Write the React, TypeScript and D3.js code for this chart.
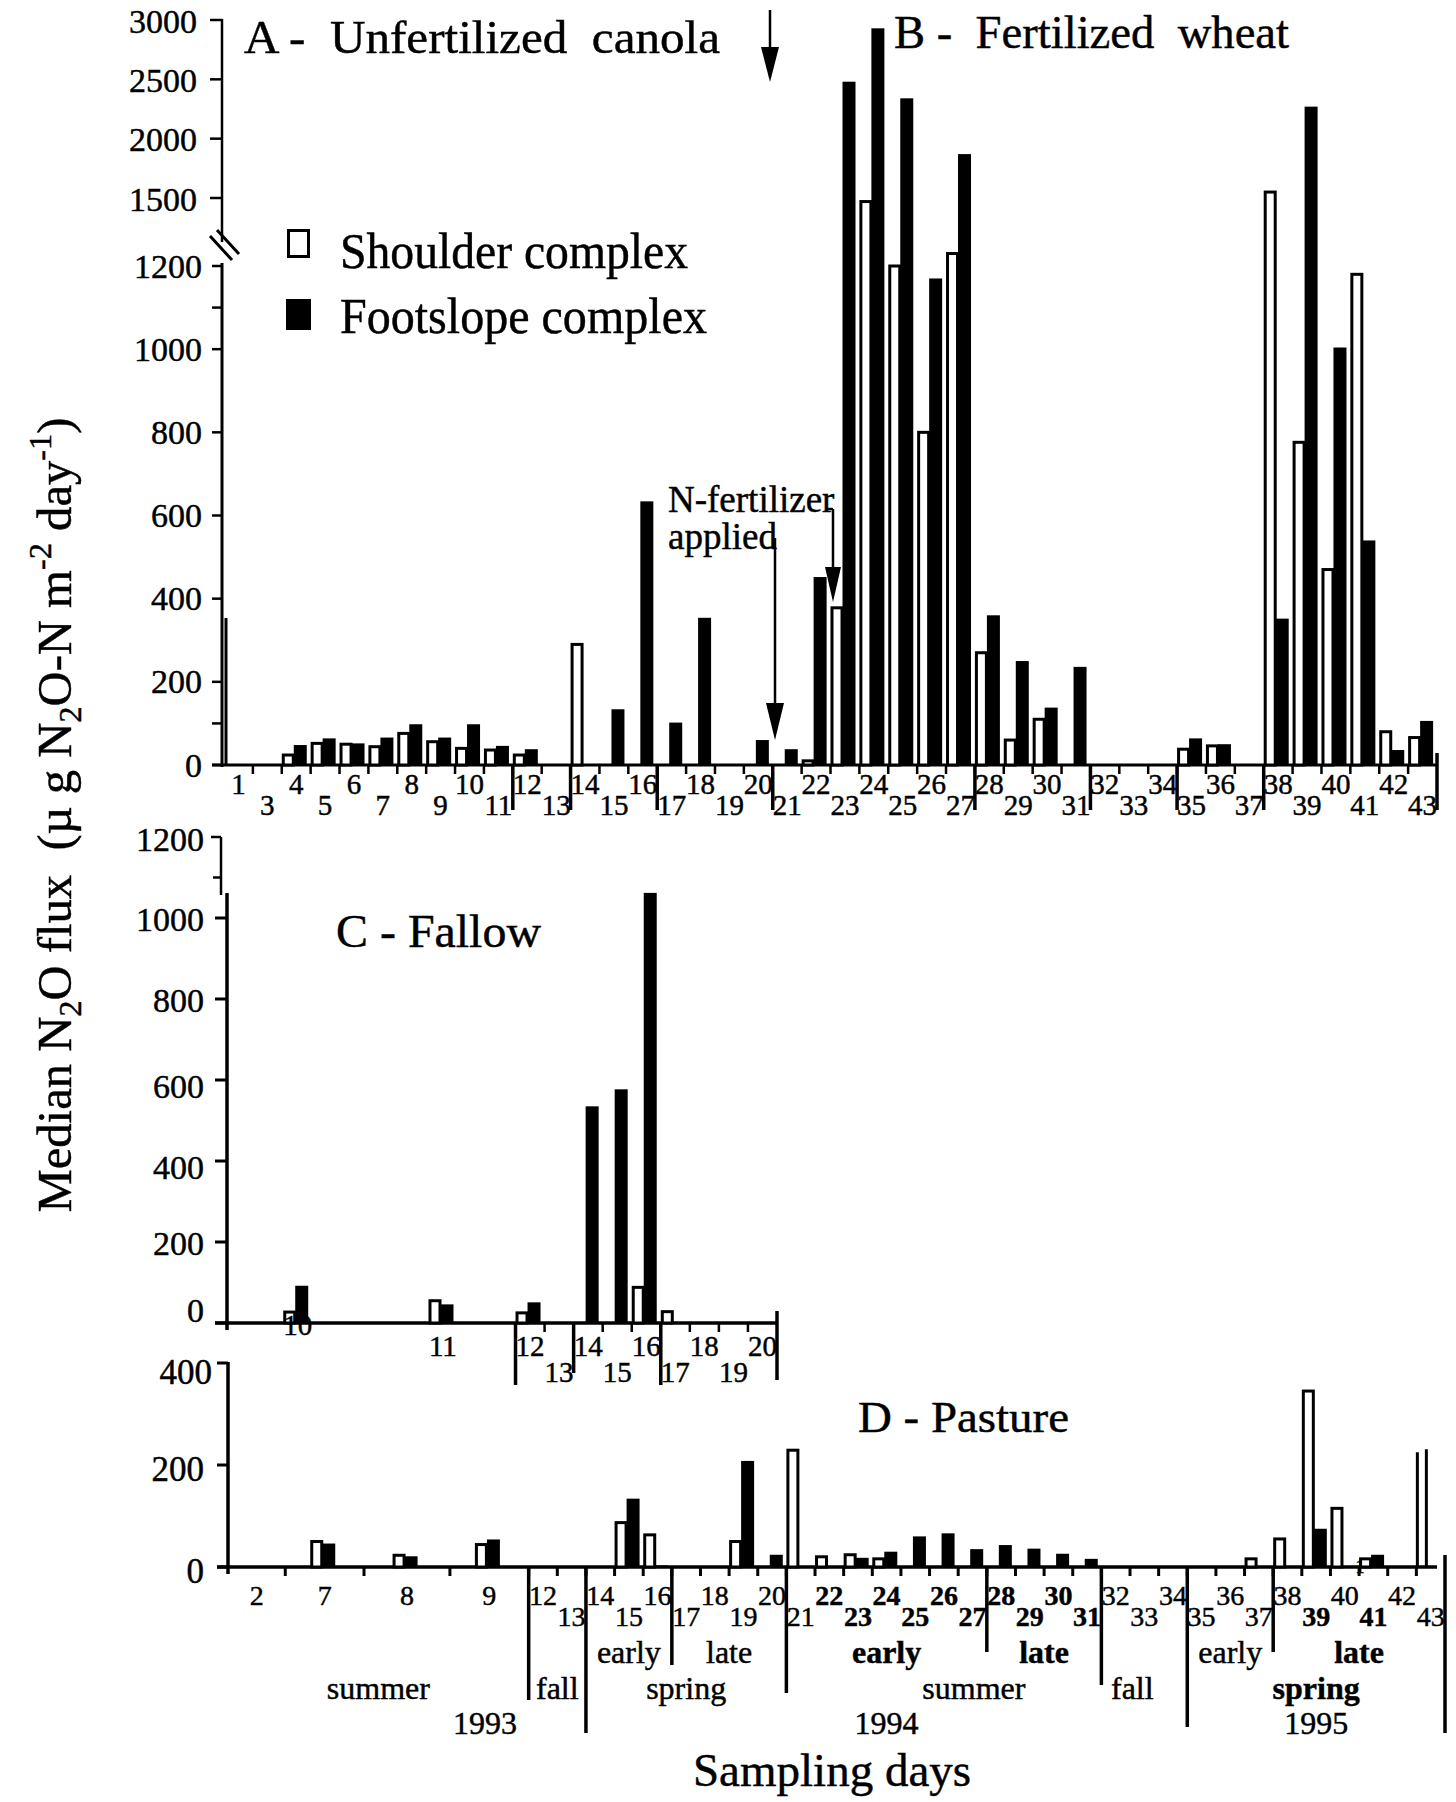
import React from 'react'
import * as d3 from 'd3'

// values (µg N2O-N m-2 day-1)
const daysA = ['1', '3', '4', '5', '6', '7', '8', '9', '10', '11', '12', '13', '14', '15', '16', '17', '18', '19', '20', '21', '22',
  '23', '24', '25', '26', '27', '28', '29', '30', '31', '32', '33', '34', '35', '36', '37', '38', '39', '40', '41', '42', '43']
const shoulderA = [0, 0, 24, 52, 50, 44, 76, 56, 40, 36, 24, 0, 290, 0, 0, 0, 0, 0, 0, 0, 10,
  378, 1470, 1200, 800, 1230, 270, 60, 110, 0, 0, 0, 0, 38, 46, 0, 1550, 776, 470, 1180, 80, 66]
const footslopeA = [0, 0, 48, 64, 52, 66, 98, 66, 98, 46, 38, 0, 0, 134, 634, 102, 354, 0, 60, 38, 452,
  2480, 2930, 2340, 1170, 1870, 360, 250, 138, 236, 0, 0, 0, 64, 50, 0, 352, 2270, 1004, 540, 36, 106]

const daysC = ['10', '11', '12', '13', '14', '15', '16', '17', '18', '19', '20']
const shoulderC = [27, 55, 25, 0, 0, 0, 88, 28, 0, 0, 0]
const footslopeC = [92, 46, 51, 0, 535, 577, 1062, 0, 0, 0, 0]

const daysD = ['2', '7', '8', '9', '12', '13', '14', '15', '16', '17', '18', '19', '20', '21', '22', '23', '24', '25', '26', '27',
  '28', '29', '30', '31', '32', '33', '34', '35', '36', '37', '38', '39', '40', '41', '42', '43']
const shoulderD = [0, 50, 23, 44, 0, 0, 0, 87, 63, 0, 0, 50, 0, 229, 20, 24, 16, 0, 0, 0,
  0, 0, 0, 0, 0, 0, 0, 0, 0, 16, 55, 345, 115, 16, 0, 225]
const footslopeD = [0, 46, 21, 54, 0, 0, 0, 134, 3, 0, 0, 208, 24, 0, 0, 18, 30, 60, 66, 35,
  43, 36, 26, 16, 0, 0, 0, 0, 0, 0, 0, 75, 0, 24, 0, 0]

const ticksALow = [0, 200, 400, 600, 800, 1000, 1200]
const minorALow = [100, 1100]
const ticksAUp = [1500, 2000, 2500, 3000]
const ticksC = [0, 200, 400, 600, 800, 1000]
const ticksD = [0, 200, 400]

const seasonsD = [
  { text: 'early', from: '14', to: '16', row: 0, bold: false },
  { text: 'late', from: '17', to: '20', row: 0, bold: false },
  { text: 'early', from: '21', to: '27', row: 0, bold: true },
  { text: 'late', from: '28', to: '31', row: 0, bold: true },
  { text: 'early', from: '35', to: '37', row: 0, bold: false },
  { text: 'late', from: '38', to: '43', row: 0, bold: true },
  { text: 'summer', from: '2', to: '9', row: 1, bold: false },
  { text: 'fall', from: '12', to: '13', row: 1, bold: false },
  { text: 'spring', from: '14', to: '20', row: 1, bold: false },
  { text: 'summer', from: '21', to: '31', row: 1, bold: false },
  { text: 'fall', from: '32', to: '34', row: 1, bold: false },
  { text: 'spring', from: '35', to: '43', row: 1, bold: true },
  { text: '1993', from: '2', to: '13', row: 2, bold: false },
  { text: '1994', from: '14', to: '34', row: 2, bold: false },
  { text: '1995', from: '35', to: '43', row: 2, bold: false },
]
const boldDayD = ['22', '23', '24', '25', '26', '27', '28', '29', '30', '31', '39', '41']

// layout
const W = 1456
const H = 1802
const serif = '"Liberation Serif", "Times New Roman", serif'
const STD = 28.8
const spanC: Record<string, number> = { '10': 5, '11': 5 }
const spanD: Record<string, number> = { '2': 2, '7': 2.75, '8': 3, '9': 2.75 }
const seasonRowY = [1652, 1688, 1723]
const seasonNudge: Record<string, number> = { '1993': 78, 'summer-21': 30, 'fall-32': -12 }

type Band = { day: string; x0: number; x1: number }

function cumulativeBands(days: string[], span: Record<string, number>, r0: number, r1: number): Band[] {
  const units = days.map(d => span[d] ?? 1)
  const total = d3.sum(units)
  const x = d3.scaleLinear().domain([0, total]).range([r0, r1])
  let acc = 0
  return days.map((d, i) => {
    const b = { day: d, x0: x(acc), x1: x(acc + units[i]) }
    acc += units[i]
    return b
  })
}

const xA = d3.scaleBand<string>().domain(daysA).range([224, 1437])
const bandsA: Band[] = daysA.map(d => ({ day: d, x0: xA(d)!, x1: xA(d)! + xA.bandwidth() }))
const yALow = d3.scaleLinear().domain([0, 1200]).range([765, 266])
const yAUp = d3.scaleLinear().domain([1500, 3000]).range([198, 20])
const yA = (v: number) => (v > 1300 ? yAUp(v) : yALow(v))

const bandsC = cumulativeBands(daysC, spanC, 225, 777)
const yC = d3.scaleLinear().domain([0, 1000]).range([1323, 918])

const bandsD = cumulativeBands(daysD, spanD, 228, 1445)
const yD = d3.scaleLinear().domain([0, 400]).range([1567, 1363])

function barPairs(bands: Band[], s: number[], f: number[], y: (v: number) => number, base: number, openTop: string[] = []) {
  return bands.map((b, i) => {
    const w = b.x1 - b.x0
    const x0 = b.x0 + (w > STD + 1 ? (w - STD) / 2 : 0)
    return (
      <g key={b.day}>
        {s[i] > 0 && (openTop.includes(b.day) ? (
          <g stroke="#000" strokeWidth={3}>
            <line x1={x0 + 1} x2={x0 + 1} y1={base} y2={y(s[i])} />
            <line x1={x0 + 10} x2={x0 + 10} y1={base} y2={y(s[i]) - 3} />
          </g>
        ) : (
          <rect x={x0 + 1.5} y={y(s[i])} width={10} height={base - y(s[i])} fill="#fff" stroke="#000" strokeWidth={3} />
        ))}
        {f[i] > 0 && <rect x={x0 + 12} y={y(f[i])} width={13} height={base - y(f[i])} fill="#000" />}
      </g>
    )
  })
}

function bandTicks(bands: Band[], base: number, len: number) {
  return bands.slice(1).map(b => <line key={'t' + b.day} x1={b.x0} x2={b.x0} y1={base} y2={base + len} />)
}

function dividers(bands: Band[], ends: Record<string, number>, base: number) {
  return Object.keys(ends).map(k => {
    const b = k === 'end' ? bands[bands.length - 1] : bands.find(d => d.day === k)!
    const x = k === 'end' ? b.x1 : b.x0
    return <line key={'v' + k} x1={x} x2={x} y1={base - (k === 'end' ? 12 : 0)} y2={ends[k]} strokeWidth={3.5} />
  })
}

function dayLabels(bands: Band[], rowY: (d: string) => number, bold: string[] = [], size = 29) {
  return bands.map(b => (
    <text key={'l' + b.day} x={(b.x0 + b.x1) / 2} y={rowY(b.day)} textAnchor="middle" dominantBaseline="central"
      fontSize={size} fontWeight={bold.includes(b.day) ? 'bold' : 'normal'}>{b.day}</text>
  ))
}

function Arrow({ x, y1, y2, head = 36, half = 9 }: { x: number; y1: number; y2: number; head?: number; half?: number }) {
  return (
    <g>
      <line x1={x} x2={x} y1={y1} y2={y2 - head + 2} stroke="#000" strokeWidth={2.5} />
      <path d={`M${x - half},${y2 - head}L${x + half},${y2 - head}L${x},${y2}Z`} fill="#000" />
    </g>
  )
}

export default function App() {
  const isUpper = (d: string) => d === '1' || +d % 2 === 0
  return (
    <svg width={W} height={H} viewBox={`0 0 ${W} ${H}`} fontFamily={serif}
      style={{ position: 'absolute', left: 0, top: 0, background: '#fff' }}>
      <style>{'text { stroke: #000; stroke-width: 0.45px; }'}</style>
      <rect width={W} height={H} fill="#fff" />

      {/* y title */}
      <text transform="translate(71,815) rotate(-90)" textAnchor="middle" fontSize={48}
        textLength={795} lengthAdjust="spacingAndGlyphs" style={{ whiteSpace: 'pre' }}>
        Median N<tspan dy={10} fontSize={32}>2</tspan><tspan dy={-10}>O flux  (µ g N</tspan>
        <tspan dy={10} fontSize={32}>2</tspan><tspan dy={-10}>O-N m</tspan>
        <tspan dy={-20} fontSize={32}>-2</tspan><tspan dy={20}> day</tspan>
        <tspan dy={-20} fontSize={32}>-1</tspan><tspan dy={20}>)</tspan>
      </text>

      {/* ---------- panel A / B ---------- */}
      <g stroke="#000" strokeWidth={2.5}>
        <line x1={222} x2={222} y1={19} y2={242} />
        {ticksAUp.map(v => <line key={v} x1={210} x2={222} y1={yAUp(v)} y2={yAUp(v)} />)}
        <line x1={210} x2={232} y1={236} y2={260} strokeWidth={3} />
        <line x1={217} x2={239} y1={230} y2={254} strokeWidth={3} />
        <line x1={222} x2={222} y1={263} y2={767} strokeWidth={3} />
        <line x1={226} x2={226} y1={618} y2={766} strokeWidth={3} />
        {ticksALow.concat(minorALow).map(v => <line key={'a' + v} x1={212} x2={222} y1={yALow(v)} y2={yALow(v)} />)}
        <line x1={212} x2={1437} y1={765} y2={765} strokeWidth={3} />
        {bandTicks(bandsA, 765, 9)}
        {dividers(bandsA, { '12': 810, '14': 810, '17': 810, '21': 810, '28': 810, '32': 810, '35': 810, '38': 810, end: 810 }, 765)}
      </g>
      <g fontSize={34} textAnchor="end" dominantBaseline="central">
        {ticksAUp.map(v => <text key={v} x={197} y={yAUp(v) + 1}>{v}</text>)}
        {ticksALow.map(v => <text key={v} x={202} y={yALow(v)}>{v}</text>)}
      </g>
      {barPairs(bandsA, shoulderA, footslopeA, yA, 765)}
      {dayLabels(bandsA, d => (isUpper(d) ? 784 : 805))}

      <text x={244} y={53} fontSize={47} textLength={476} lengthAdjust="spacingAndGlyphs" style={{ whiteSpace: 'pre' }}>A -  Unfertilized  canola</text>
      <text x={894} y={48} fontSize={47} textLength={395} lengthAdjust="spacingAndGlyphs" style={{ whiteSpace: 'pre' }}>B -  Fertilized  wheat</text>
      <Arrow x={770} y1={10} y2={82} head={35} half={9} />

      <rect x={288.5} y={230.5} width={20} height={26} fill="#fff" stroke="#000" strokeWidth={3} />
      <text x={340} y={268} fontSize={50} textLength={348} lengthAdjust="spacingAndGlyphs">Shoulder complex</text>
      <rect x={286} y={299} width={25} height={31} fill="#000" />
      <text x={340} y={333} fontSize={50} textLength={367} lengthAdjust="spacingAndGlyphs">Footslope complex</text>

      <text x={668} y={512} fontSize={37}>N-fertilizer</text>
      <text x={668} y={549} fontSize={37}>applied</text>
      <Arrow x={775} y1={538} y2={740} head={37} half={9} />
      <line x1={826} x2={833} y1={509} y2={509} stroke="#000" strokeWidth={2.5} />
      <Arrow x={833} y1={509} y2={602} head={35} half={8} />

      {/* ---------- panel C ---------- */}
      <g stroke="#000" strokeWidth={2.5}>
        <line x1={221} x2={221} y1={837} y2={895} />
        <line x1={211} x2={221} y1={yC(1200)} y2={yC(1200)} />
        <line x1={213} x2={221} y1={yC(1100)} y2={yC(1100)} />
        <line x1={227} x2={227} y1={893} y2={1330} strokeWidth={3.5} />
        {ticksC.map(v => <line key={v} x1={215} x2={227} y1={yC(v)} y2={yC(v)} strokeWidth={3} />)}
        <line x1={215} x2={777} y1={1323} y2={1323} strokeWidth={3.5} />
        {bandTicks(bandsC.slice(2), 1323, 9)}
        {dividers(bandsC, { '12': 1385, '14': 1373, '17': 1385, end: 1380 }, 1323)}
      </g>
      <g fontSize={34} textAnchor="end" dominantBaseline="central">
        {ticksC.map(v => <text key={v} x={204} y={yC(v) + (v === 0 ? -13 : v === 400 || v === 600 ? 6 : 1)}>{v}</text>)}
        <text x={204} y={yC(1200) + 2}>1200</text>
      </g>
      {barPairs(bandsC, shoulderC, footslopeC, yC, 1323)}
      {dayLabels(bandsC, d => (d === '10' ? 1325 : d === '11' || +d % 2 === 0 ? 1346 : 1372))}
      <text x={336} y={947} fontSize={47} textLength={205} lengthAdjust="spacingAndGlyphs">C - Fallow</text>

      {/* ---------- panel D ---------- */}
      <g stroke="#000" strokeWidth={3}>
        <line x1={228} x2={228} y1={1362} y2={1574} strokeWidth={3.5} />
        {ticksD.map(v => <line key={v} x1={217} x2={228} y1={yD(v)} y2={yD(v)} />)}
        <line x1={217} x2={1437} y1={1567} y2={1567} strokeWidth={3.5} />
        {bandTicks(bandsD, 1567, 9)}
        {dividers(bandsD, { '12': 1700, '14': 1733, '17': 1665, '21': 1693, '28': 1652, '32': 1685, '35': 1727, '38': 1652, end: 1733 }, 1567)}
      </g>
      <g fontSize={35} textAnchor="end" dominantBaseline="central">
        {ticksD.map(v => <text key={v} x={v === 400 ? 212 : 204} y={yD(v) + (v === 400 ? 9 : 4)}>{v}</text>)}
      </g>
      {barPairs(bandsD, shoulderD, footslopeD, yD, 1567, ['43'])}
      {dayLabels(bandsD, d => (+d < 10 || +d % 2 === 0 ? 1595 : 1616), boldDayD, 28)}
      <text x={1360} y={1573} fontSize={18} textAnchor="middle">1</text>
      <text x={858} y={1432} fontSize={44} textLength={211} lengthAdjust="spacingAndGlyphs">D - Pasture</text>

      {seasonsD.map(s => {
        const a = bandsD.find(b => b.day === s.from)!
        const b = bandsD.find(bb => bb.day === s.to)!
        const nudge = seasonNudge[s.text] ?? seasonNudge[s.text + '-' + s.from] ?? 0
        return (
          <text key={s.text + s.from} x={(a.x0 + b.x1) / 2 + nudge} y={seasonRowY[s.row]} textAnchor="middle"
            dominantBaseline="central" fontSize={32} fontWeight={s.bold ? 'bold' : 'normal'}>{s.text}</text>
        )
      })}
      <text x={832} y={1786} fontSize={47} textAnchor="middle">Sampling days</text>
    </svg>
  )
}
